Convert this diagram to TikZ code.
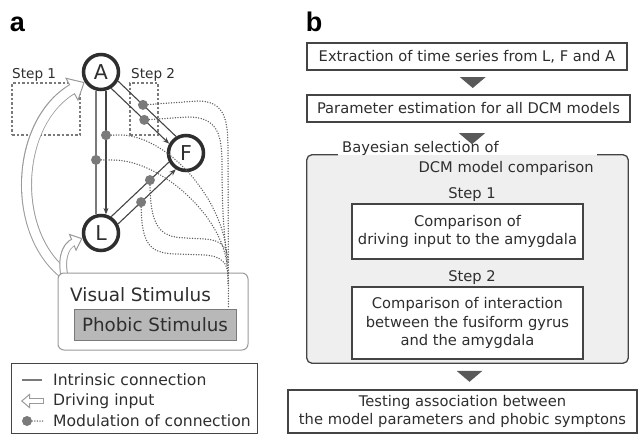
\documentclass[tikz,border=0pt]{standalone}
\usepackage{fontspec}
\setmainfont{DejaVu Sans}
\newfontfamily\panelfont{Liberation Sans}
\usetikzlibrary{arrows.meta,calc}
\definecolor{dk}{HTML}{2e2e2e}
\definecolor{ln}{HTML}{444444}
\definecolor{md}{HTML}{7a7a7a}
\definecolor{dotc}{HTML}{5a5a5a}
\definecolor{lt}{HTML}{9a9a9a}
\definecolor{boxgray}{HTML}{efefef}
\definecolor{phgray}{HTML}{b8b8b8}
% hollow (open) driving-input arrow: path, outer width, inner width, outer shorten, inner shorten, head length, head width
\newcommand\hollowarrow[7]{%
  \draw[lt,line width=#2,shorten >=#4] #1;
  \draw[lt,line width=1pt,line join=miter,-{Triangle[open,fill=white,length=#6,width=#7]}] #1;
  \draw[white,line width=#3,shorten >=#5] #1;}
\begin{document}
\begin{tikzpicture}[x=1pt,y=-1pt,
  region/.style={circle,draw=dk,line width=3.5pt,fill=white,minimum size=35pt,inner sep=0pt,text=dk,font=\fontsize{20.5}{20.5}\selectfont},
  conn/.style={draw=ln,line width=1.1pt},
  connarrow/.style={conn,-{Stealth[length=6.5pt,width=5pt]}},
  retconn/.style={draw=md,line width=1.4pt},
  moddot/.style={fill=md},
  modline/.style={draw=dotc,line width=1.5pt,line cap=round,dash pattern=on 0pt off 2.6pt},
  stepbox/.style={draw=md,line width=1.1pt,dash pattern=on 2.5pt off 2pt,inner sep=0pt},
  steplabel/.style={font=\fontsize{13.6}{16}\selectfont,text=dk,inner sep=0pt,anchor=west},
  flowbox/.style={draw=ln,line width=1.3pt,fill=white,inner sep=0pt,align=center,text=dk,font=\fontsize{14.7}{18.5}\selectfont},
  flowtri/.style={fill=black!65},
  legtext/.style={anchor=west,inner sep=0pt,text=dk,font=\fontsize{15.6}{17}\selectfont},
  panellabel/.style={inner sep=0pt,font=\panelfont\bfseries\fontsize{27}{27}\selectfont},
]
\useasboundingbox (0,0) rectangle (638,434);

% ---------- panel a ----------
\node[panellabel] (la) at (17.5,24) {a};

\node[stepbox,minimum width=68pt,minimum height=52pt] (st1) at (46,109) {};
\node[stepbox,minimum width=28pt,minimum height=52pt] (st2) at (144,109) {};
\node[steplabel] (st1l) at (12,75) {Step 1};
\node[steplabel] (st2l) at (131,75) {Step 2};

\node[region] (A) at (101,72) {A};
\node[region] (F) at (186,153) {F};
\node[region] (L) at (101,233) {L};

% driving inputs
\hollowarrow{(62,272) .. controls (10,228) and (16,120) .. (A.212)}{11pt}{9pt}{12pt}{11pt}{15pt}{27pt}
\hollowarrow{(66,282) .. controls (60,262) and (64,246) .. (L.196)}{7.8pt}{5.8pt}{9pt}{8pt}{11pt}{19pt}

% intrinsic connections
\draw[retconn] (A.-105) -- coordinate[pos=0.56] (m4) (L.105);
\draw[connarrow] (A.-75) -- coordinate[pos=0.36] (m3) (L.75);
\draw[conn] (A.-28.6) -- coordinate[pos=0.43] (m1) (F.121.4);
\draw[connarrow] (A.-58.6) -- coordinate[pos=0.57] (m2) (F.151.4);
\draw[conn] (L.58.3) -- coordinate[pos=0.67] (m5) (F.208.3);
\draw[connarrow] (L.28.3) -- coordinate[pos=0.40] (m6) (F.238.3);

% stimulus boxes
\node[draw=lt,line width=1pt,rounded corners=6pt,fill=white,minimum width=190pt,minimum height=77pt,inner sep=0pt] (vis) at (153,311.5) {};
\node[anchor=west,inner sep=0pt,text=dk,font=\fontsize{18.4}{20}\selectfont] (vist) at (70,295) {Visual Stimulus};
\node[draw=md,line width=1pt,fill=phgray,minimum width=162pt,minimum height=31pt,inner sep=0pt,text=dk,font=\fontsize{18.3}{20}\selectfont] (phob) at (155,324.5) {Phobic Stimulus};
\coordinate (tr) at ($(phob.north east)+(-8,0)$);

% modulation lines
\draw[modline] (m1) -- (198,101) .. controls (226,101) and (228,122) .. (228,150) -- (tr);
\draw[modline] (m2) -- (188,117) .. controls (218,117) and (222,135) .. (222,165) .. controls (222,240) and (228,250) .. (228,285);
\draw[modline] (m3) -- (120,135) .. controls (165,135) and (222,195) .. (227,255);
\draw[modline] (m4) -- (113,160) .. controls (160,160) and (222,215) .. (227,265);
\draw[modline] (m5) .. controls (150,225) and (158,237) .. (185,238) -- (205,239) .. controls (222,240) and (228,248) .. (228,262);
\draw[modline] (m6) .. controls (141,245) and (150,253) .. (175,254) -- (205,255) .. controls (220,256) and (228,262) .. (228,276);
\foreach \m in {m1,m2,m3,m4,m5,m6} \fill[moddot] (\m) circle (5pt);

% legend
\node[draw=ln,line width=1pt,minimum width=246pt,minimum height=70pt,inner sep=0pt] (leg) at (134,398) {};
\coordinate (lg1a) at (22,380); \coordinate (lg1b) at (42,380);
\draw[retconn] (lg1a) -- (lg1b);
\coordinate (lg2a) at (43,401); \coordinate (lg2b) at (21,401);
\hollowarrow{(lg2a) -- (lg2b)}{6.8pt}{4.8pt}{8pt}{7pt}{9pt}{15pt}
\draw[lt,line width=1pt] ($(lg2a)+(0,-3.4)$) -- ($(lg2a)+(0,3.4)$);
\coordinate (lg3a) at (27,421); \coordinate (lg3b) at (43,421);
\draw[modline] (lg3a) -- (lg3b);
\fill[moddot] (lg3a) circle (5pt);
\node[legtext] (lt1) at (53,380) {Intrinsic connection};
\node[legtext] (lt2) at (53,401) {Driving input};
\node[legtext] (lt3) at (53,421) {Modulation of connection};

% ---------- panel b ----------
\node[panellabel] (lb) at (314,22) {b};

\node[flowbox,minimum width=320pt,minimum height=27pt] (b1) at (467,56.5) {Extraction of time series from L, F and A};
\node[flowbox,minimum width=323pt,minimum height=27pt] (b2) at (468.5,108.5) {Parameter estimation for all DCM models};

\node[fill=boxgray,rounded corners=5pt,minimum width=321pt,minimum height=208pt,inner sep=0pt] (sel) at (467.5,259) {};
\draw[draw=ln,line width=1.3pt,rounded corners=5pt] ($(sel.north west)+(31,0)$) -- (sel.north west) -- (sel.south west) -- (sel.south east) -- (sel.north east) -- ($(sel.north east)+(-31,0)$);
\node[anchor=west,inner sep=0pt,text=dk,font=\fontsize{14.7}{18}\selectfont] (selt1) at (342,148) {Bayesian selection of};
\node[anchor=east,inner sep=0pt,text=dk,font=\fontsize{14.7}{18}\selectfont] (selt2) at (594,168) {DCM model comparison};

\node[inner sep=0pt,text=dk,font=\fontsize{14.7}{18}\selectfont] (s1l) at (472,195) {Step 1};
\node[flowbox,minimum width=231pt,minimum height=55pt] (s1) at (467.5,231.5) {Comparison of\\driving input to the amygdala};
\node[inner sep=0pt,text=dk,font=\fontsize{14.7}{18}\selectfont] (s2l) at (472,278) {Step 2};
\node[flowbox,minimum width=231pt,minimum height=72pt] (s2) at (467.5,323) {Comparison of interaction\\between the fusiform gyrus\\and the amygdala};

\node[flowbox,minimum width=349pt,minimum height=43pt] (b3) at (462.5,411.5) {Testing association between\\the model parameters and phobic symptons};

% flow triangles between boxes
\coordinate (t1) at ($(b1.south)!0.5!(b2.north)+(5,0)$);
\coordinate (t2) at ($(b2.south)!0.5!(sel.north)+(4,0)$);
\coordinate (t3) at ($(sel.south)!0.5!(b3.north)+(4.5,0)$);
\foreach \t in {t1,t2,t3}
  \fill[flowtri] ($(\t)+(-13,-5.5)$) -- ($(\t)+(13,-5.5)$) -- ($(\t)+(0,5.5)$) -- cycle;
\end{tikzpicture}
\end{document}
